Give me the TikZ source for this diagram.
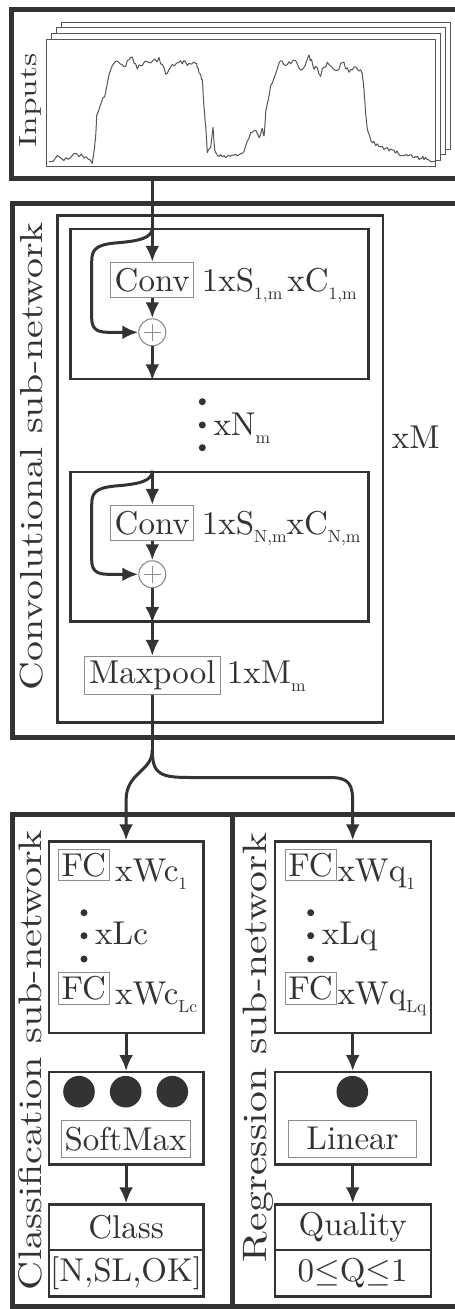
\RequirePackage{fix-cm}
\documentclass[tikz,border=0pt]{standalone}
\usepackage{fontspec}
\setmainfont{lmroman10-regular.otf}
\usepackage{graphicx}
\usetikzlibrary{arrows.meta}
\definecolor{dk}{HTML}{333333}
\definecolor{lg}{HTML}{8C8C8C}
\definecolor{pg}{HTML}{555555}
\newcommand{\sbx}[1]{\raisebox{-8pt}{\fontsize{17.5}{17.5}\selectfont #1}}
\begin{document}
\begin{tikzpicture}[x=1pt,y=-1pt,
  txt/.style={text=dk, font=\fontsize{33}{40}\selectfont},
  outerframe/.style={draw=dk, line width=5pt},
  blockbox/.style={draw=dk, line width=2.7pt, inner sep=0pt},
  grp/.style={draw=dk, line width=2.4pt, inner sep=0pt, txt},
  thinbox/.style={draw=lg, line width=1pt, inner sep=0pt, txt, fill=white},
  conn/.style={draw=dk, line width=3pt},
  arr/.style={conn, -{Latex[length=16pt,width=14pt]}},
  lbl/.style={anchor=base west, inner sep=0pt, txt},
  rlbl/.style={rotate=90, anchor=base, inner sep=0pt, txt},
  dotn/.style={circle, fill=dk, inner sep=0pt, minimum size=7pt},
  bigdot/.style={circle, fill=dk, inner sep=0pt, minimum size=31.6pt},
  sumnode/.style={circle, draw=lg, line width=1.1pt, fill=white, minimum size=27pt, inner sep=0pt,
    path picture={\draw[lg, line width=0.9pt] (path picture bounding box.center) +(-8.5pt,0pt) -- +(8.5pt,0pt)
      (path picture bounding box.center) +(0pt,-8.5pt) -- +(0pt,8.5pt);}},
  sig/.style={draw=pg, line width=1pt, line join=round},
  sheet/.style={draw=pg, line width=0.9pt, fill=white}
]
\useasboundingbox (0,0) rectangle (455,1309);
\clip (0,0) rectangle (455,1309);
\fill[white] (0,0) rectangle (455,1309);

% ---------- Inputs ----------
\draw[outerframe] (11.7,9.3) rectangle (470,178.3);
\foreach \i in {3,2,1} {
  \filldraw[sheet] ({46.7+5*\i},{39-5.6*\i}) rectangle ++(389,127);
}
\filldraw[sheet] (46.7,39) rectangle (435.7,166);
\pgfmathsetseed{12}
\draw[sig] (49,161.7)
  \foreach \xb/\yb/\am [remember=\xb as \xa (initially 49), remember=\yb as \ya (initially 161.7)] in {
  57.3/157.3/2, 66/159/2, 74/153.3/2, 84/156.7/2, 92.3/161.7/2,
  94/153/1.5, 95.7/136.7/1.5, 96.7/116.7/1.5, 100.7/103.3/1.5, 105.7/93.3/1.5, 109/73.3/1.5, 115.7/60/1.5,
  124/66.7/2.5, 130.7/56.7/2.5, 137.3/68.3/2.5, 144/61.7/2.5, 150.7/63.3/2.5, 159/58.3/2.5, 165.7/73.3/2, 172.3/65/2.5, 180.7/61.7/2.5, 187.3/63.3/2.5, 195.7/61.7/2,
  199/71.7/1.5, 202.3/80/1.5, 204/106.7/1.5, 205.7/126.7/1.5, 207.3/151.7/1,
  210.7/146.7/0.5, 213/127.3/0.5, 214.7/150/0.5, 217.3/155/0.8,
  224/156.7/1.2, 230/155.5/1.2, 237.3/155/1.2, 244/151.7/1.2,
  250.7/133.3/1.5, 255.7/129.3/1.5, 259/138.3/1, 262.3/128.3/1, 264/136.7/1,
  265.7/113.3/1.5, 270.7/86.7/1.5, 275.7/73.3/1.5, 280.7/60/1.5,
  287.3/66.7/3, 294/58.3/3, 300.7/71.7/3, 309/55/3, 314/66.7/3, 320.7/73.3/3, 327.3/65/3, 335.7/71.7/3, 342.3/61.7/3, 349/73.3/3, 355.7/66.7/3, 362.3/73.3/2,
  364/90/1, 365.7/113.3/1.5, 367.3/130/1.5, 370.7/140/1.5, 377.3/145/2,
  384/148/2, 390.7/150/2, 397/153/2, 404/155/2, 409/155/2, 414/156.7/2, 419/158/2, 424/158.3/2, 430/160/2, 435/161.7/1.5} {
    \foreach \t in {0.25,0.5,0.75,1} {
      -- ({\xa+\t*(\xb-\xa)},{\ya+\t*(\yb-\ya)+\am*rand})
    }
  };
\node[rlbl] (tinputs) at (36.5,100.5) {\resizebox{94pt}{17pt}{Inputs}};
\coordinate (inbot) at (152.3,178.3);

% ---------- Convolutional sub-network ----------
\draw[outerframe] (12.5,203.7) rectangle (470,737);
\node[rlbl] (tconv) at (42.5,456) {\resizebox{468pt}{22.5pt}{Convolutional sub-network}};
\node[blockbox, minimum width=325.5pt, minimum height=506.8pt] (loopbox) at (220.25,469.1) {};
\node[blockbox, minimum width=298pt, minimum height=150pt] (blk1) at (219.7,304) {};
\node[blockbox, minimum width=298pt, minimum height=149.7pt] (blk2) at (219.7,546.85) {};

\node[thinbox, minimum width=82.7pt, minimum height=35pt] (conv1) at (152.3,279.8) {Conv};
\node[lbl] (lab1) at (201.7,291.7) {1xS\sbx{1,m}\hspace{5pt}xC\sbx{1,m}};
\node[sumnode] (p1) at (152.3,332.3) {};

\node[dotn] (d1) at (202.3,401.7) {};
\node[dotn] (d2) at (202.3,425) {};
\node[dotn] (d3) at (202.3,447.7) {};
\node[lbl] (labN) at (213.3,435) {xN\sbx{m}};
\node[lbl] (labM) at (391.7,448.3) {xM};

\node[thinbox, minimum width=82.7pt, minimum height=35pt] (conv2) at (152.3,522.8) {Conv};
\node[lbl] (lab2) at (201.7,534.3) {1xS\sbx{N,m}xC\sbx{N,m}};
\node[sumnode] (p2) at (152.3,574.3) {};

\node[thinbox, minimum width=136pt, minimum height=38pt] (mp) at (152.3,675.3) {Maxpool};
\node[lbl] (labmp) at (226.7,683.8) {1xM\sbx{m}};

% connectors conv
\draw[arr] (inbot) -- (conv1.north);
\draw[arr] (conv1.south) -- (p1.north);
\draw[arr] (p1.south) -- (p1.south |- blk1.south);
\draw[arr] (conv1.north |- blk1.north) .. controls (152.3,238) and (140,241) .. (115,243)
  .. controls (95,245) and (91.7,250) .. (91.7,262) -- (91.7,318)
  .. controls (91.7,328) and (96,332.3) .. (108,332.3) -- (p1.west);

\draw[arr] (conv2.north |- blk2.north) -- (conv2.north);
\draw[arr] (conv2.south) -- (p2.north);
\draw[arr] (p2.south) -- (p2.south |- blk2.south);
\draw[arr] (p2.south |- blk2.south) -- (mp.north);
\draw[arr] (conv2.north |- blk2.north) .. controls (152.3,481) and (140,484) .. (115,486)
  .. controls (95,488) and (91.7,493) .. (91.7,505) -- (91.7,560)
  .. controls (91.7,570) and (96,574.3) .. (108,574.3) -- (p2.west);

% ---------- Classification / Regression ----------
\draw[outerframe] (12.5,814) rectangle (232,1306);
\draw[outerframe] (232,814) rectangle (470,1306);
\node[rlbl] (tcls) at (41.5,1060) {\resizebox{460pt}{23pt}{Classification sub-network}};
\node[rlbl] (treg) at (266.5,1047.5) {\resizebox{429pt}{23.5pt}{Regression sub-network}};

% classification column
\node[grp, minimum width=154.8pt, minimum height=191.3pt] (fcg) at (126.1,937.15) {};
\node[thinbox, minimum width=51pt, minimum height=31.7pt] (fc1) at (83.8,864.85) {FC};
\node[lbl] (labwc1) at (115,881) {xWc\sbx{1}};
\node[dotn] (e1) at (84,912.7) {};
\node[dotn] (e2) at (84,935.7) {};
\node[dotn] (e3) at (84,959) {};
\node[lbl] (lablc) at (95,944) {xLc};
\node[thinbox, minimum width=51pt, minimum height=32.5pt] (fc2) at (83.8,988.65) {FC};
\node[lbl] (labwc2) at (115,1004.5) {xWc\sbx{Lc}};

\node[grp, minimum width=154.8pt, minimum height=92.3pt] (smg) at (126.1,1118.35) {};
\node[bigdot] (c1) at (79,1091.7) {};
\node[bigdot] (c2) at (125.7,1091.7) {};
\node[bigdot] (c3) at (172.3,1091.7) {};
\node[thinbox, minimum width=129pt, minimum height=37.7pt] (sm) at (125.5,1138.85) {SoftMax};

\node[grp, minimum width=154.8pt, minimum height=45.5pt] (clsA) at (126.1,1227.25) {Class};
\node[grp, minimum width=154.8pt, minimum height=46.5pt] (clsB) at (126.1,1273.25) {[N,SL,OK]};

% regression column
\node[grp, minimum width=156pt, minimum height=191.3pt] (rfg) at (352.7,937.15) {};
\node[thinbox, minimum width=51pt, minimum height=31.7pt] (rfc1) at (310.5,864.85) {FC};
\node[lbl] (labwq1) at (337.3,881) {xWq\sbx{1}};
\node[dotn] (f1) at (310.7,912.7) {};
\node[dotn] (f2) at (310.7,935.7) {};
\node[dotn] (f3) at (310.7,959) {};
\node[lbl] (lablq) at (321.7,944) {xLq};
\node[thinbox, minimum width=51pt, minimum height=32.5pt] (rfc2) at (310.5,988.65) {FC};
\node[lbl] (labwq2) at (337.3,1004.5) {xWq\sbx{Lq}};

\node[grp, minimum width=156pt, minimum height=92.3pt] (rsmg) at (352.7,1118.35) {};
\node[bigdot] (rc1) at (352.3,1091.7) {};
\node[thinbox, minimum width=128.4pt, minimum height=37.7pt] (lin) at (352.5,1138.85) {Linear};

\node[grp, minimum width=156pt, minimum height=45.5pt] (qA) at (352.7,1227.25) {Quality};
\node[grp, minimum width=156pt, minimum height=46.5pt] (qB) at (352.7,1273.25) {0$\leq$Q$\leq$1};

% split connectors
\coordinate (split) at (152.3,750);
\draw[conn] (mp.south) -- (split);
\draw[arr] (split) .. controls (152.3,772) and (126.1,772) .. (126.1,800) -- (fcg.north);
\draw[arr] (split) .. controls (152.3,774) and (160,777.5) .. (190,777.5) -- (330,777.5)
  .. controls (350,777.5) and (352.7,785) .. (352.7,803) -- (rfg.north);

\draw[arr] (fcg.south) -- (smg.north);
\draw[arr] (smg.south) -- (clsA.north);
\draw[arr] (rfg.south) -- (rsmg.north);
\draw[arr] (rsmg.south) -- (qA.north);
\end{tikzpicture}
\end{document}
